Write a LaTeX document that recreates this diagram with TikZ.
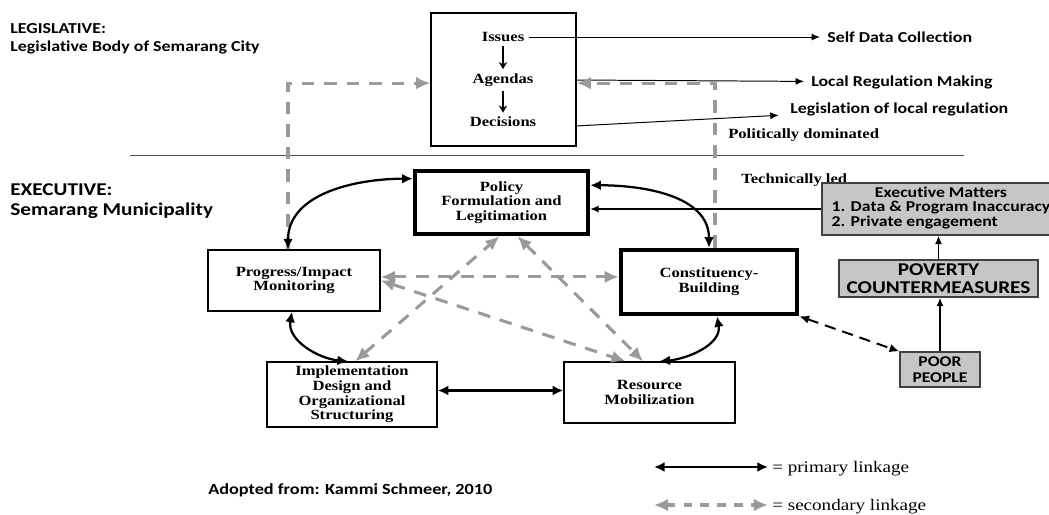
\documentclass[tikz,border=0pt]{standalone}
\usepackage{fontspec}
\setmainfont{Liberation Serif}[FakeStretch=1.18]
\newfontfamily\calibri{Carlito}[FakeStretch=1.18, Ligatures=NoCommon]
\usetikzlibrary{arrows.meta, positioning}
\definecolor{SecGray}{HTML}{9A9A9A}
\definecolor{BoxGray}{HTML}{C6C6C6}
\tikzset{
  phase/.style={rectangle, draw=black, line width=1pt, fill=white, align=center, inner sep=2pt, font=\fontsize{10}{10.5}\selectfont\bfseries},
  keyphase/.style={phase, line width=3.2pt},
  shaded/.style={rectangle, draw=black!75, line width=0.8pt, fill=BoxGray, align=center, inner sep=1pt},
  sidetext/.style={anchor=west, align=left, inner sep=0pt, font=\calibri\bfseries\fontsize{10.8}{12.5}\selectfont},
  serifnote/.style={anchor=west, inner sep=0pt, font=\fontsize{10}{12}\selectfont\bfseries},
  stacktext/.style={inner sep=3pt, font=\fontsize{10}{12}\selectfont\bfseries},
  primary/.style={<->, >={Latex[length=7.5pt,width=7pt]}, line width=1.6pt, draw=black},
  secondary/.style={<->, >={Latex[length=10pt,width=9pt]}, line width=2.2pt, draw=SecGray, dash pattern=on 9pt off 7pt},
  link/.style={->, >={Latex[length=6pt,width=5pt]}, line width=0.7pt, draw=black},
  stackarrow/.style={->, >={Stealth[length=5pt,width=6pt]}, line width=1.2pt}
}
\begin{document}
\begin{tikzpicture}[x=0.025cm, y=0.025cm]
\useasboundingbox (0,0) rectangle (1049,-514);

% divider between the two levels
\coordinate (divl) at (130,-155);
\coordinate (divr) at (964,-155);
\draw[black!70, line width=0.6pt] (divl) -- (divr);

% legislative level
\node (leglabel) [sidetext] at (10,-39) {LEGISLATIVE:\\Legislative Body of Semarang City};
\node (leg) [phase, minimum width=3.625cm, minimum height=3.325cm] at (503.5,-79.5) {};
\node (issues) [stacktext] at (503,-37) {Issues};
\node (agendas) [stacktext] at (503,-80) {Agendas};
\node (decisions) [stacktext] at (503,-122) {Decisions};
\draw[stackarrow] (issues) -- (agendas);
\draw[stackarrow] (agendas) -- (decisions);

\node (selfdata) [sidetext] at (827,-37) {Self Data Collection};
\node (localreg) [sidetext] at (811,-82) {Local Regulation Making};
\node (legislation) [sidetext] at (790,-109) {Legislation of local regulation};
\draw[link, shorten >=5pt] (issues) -- (selfdata);
\draw[link, shorten >=5pt] (agendas -| leg.east) -- (localreg);
\draw[link, shorten >=8pt] ([yshift=-1.16cm]leg.east) -- (legislation);
\node (polit) [serifnote] at (728,-135) {Politically dominated};
\node (techled) [serifnote] at (741,-180) {Technically led};

% executive level
\node (execlabel) [sidetext, font=\calibri\bfseries\fontsize{12.8}{14}\selectfont] at (10,-201) {EXECUTIVE:\\Semarang Municipality};
\node (pol) [keyphase, minimum width=4.325cm, minimum height=1.575cm] at (501.5,-202.5) {Policy\\Formulation and\\Legitimation};
\node (prog) [phase, minimum width=4.3cm, minimum height=1.525cm] at (294,-280.5) {Progress/Impact\\Monitoring};
\node (con) [keyphase, minimum width=4.4cm, minimum height=1.6cm] at (709,-282) {Constituency-\\Building};
\node (impl) [phase, minimum width=4.25cm, minimum height=1.625cm] at (352,-394.5) {Implementation\\Design and\\Organizational\\Structuring};
\node (res) [phase, minimum width=4.275cm, minimum height=1.525cm] at (649.5,-392.5) {Resource\\Mobilization};

\node (exec) [shaded, minimum width=5.95cm, minimum height=1.3cm, font=\calibri\bfseries\fontsize{10.7}{10.5}\selectfont] at (941,-209) {\begin{tabular}{@{}l@{}}\multicolumn{1}{@{}c@{}}{Executive Matters}\\1. Data \& Program Inaccuracy\\2. Private engagement\end{tabular}};
\node (pov) [shaded, minimum width=4.975cm, minimum height=0.925cm, font=\calibri\bfseries\fontsize{12.8}{12.5}\selectfont] at (938.5,-278.5) {POVERTY\\COUNTERMEASURES};
\node (poor) [shaded, minimum width=2cm, minimum height=0.875cm, font=\calibri\bfseries\fontsize{10.6}{11.5}\selectfont] at (940,-369.5) {POOR\\PEOPLE};

% links to the legislative box
\draw[secondary, ->] ([xshift=-0.15cm]prog.north) |- ([yshift=-0.09cm]leg.west);
\draw[secondary, ->] ([xshift=0.15cm]con.north) |- ([yshift=-0.09cm]leg.east);

% secondary linkages
\draw[secondary] ([yshift=0.09cm]prog.east) -- ([yshift=0.09cm]prog.east -| con.west);
\draw[secondary] (prog.east) -- ([xshift=-0.6cm]res.north);
\draw[secondary] ([xshift=0.08cm]impl.north) -- ([xshift=-0.05cm]pol.south);
\draw[secondary] ([xshift=0.4cm]pol.south) -- ([xshift=-0.16cm]res.north);

% primary linkages
\draw[primary] (pol.165) to[out=180, in=90] ([xshift=-0.15cm]prog.north);
\draw[primary] (pol.11) to[out=0, in=90] (con.north);
\draw[primary] ([xshift=-0.05cm]prog.south) to[out=-100, in=175] ([xshift=-0.1cm]impl.north);
\draw[primary] ([xshift=0.2cm]con.south) to[out=-80, in=5] ([xshift=0.25cm]res.north);
\draw[primary] ([yshift=0.1cm]impl.east) -- ([yshift=0.1cm]impl.east -| res.west);

% executive matters
\draw[link, line width=0.9pt] (exec.west) -- (exec.west -| pol.east);
\draw[link, line width=1.2pt] (pov.north) -- (pov.north |- exec.south);
\draw[link, line width=1.2pt] (poor.north) -- (poor.north |- pov.south);
\draw[<->, >={Latex[length=7pt,width=6pt]}, line width=1.4pt, dash pattern=on 8pt off 5pt] (con.south east) -- (poor.north west);

% legend
\coordinate (pa) at (654,-467);
\coordinate (pb) at (768,-467);
\coordinate (sa) at (654,-505);
\coordinate (sb) at (768,-505);
\draw[primary] (pa) -- (pb);
\draw[secondary, dash pattern=on 6pt off 6pt] (sa) -- (sb);
\node (primtext) [anchor=west, inner sep=0pt, font=\fontsize{11.5}{12}\selectfont] at (772,-469) {= primary linkage};
\node (sectext) [anchor=west, inner sep=0pt, font=\fontsize{11.5}{12}\selectfont] at (772,-507) {= secondary linkage};
\node (source) [sidetext, font=\calibri\bfseries\fontsize{11}{12}\selectfont] at (208,-490) {Adopted from: Kammi Schmeer, 2010};
\end{tikzpicture}
\end{document}
